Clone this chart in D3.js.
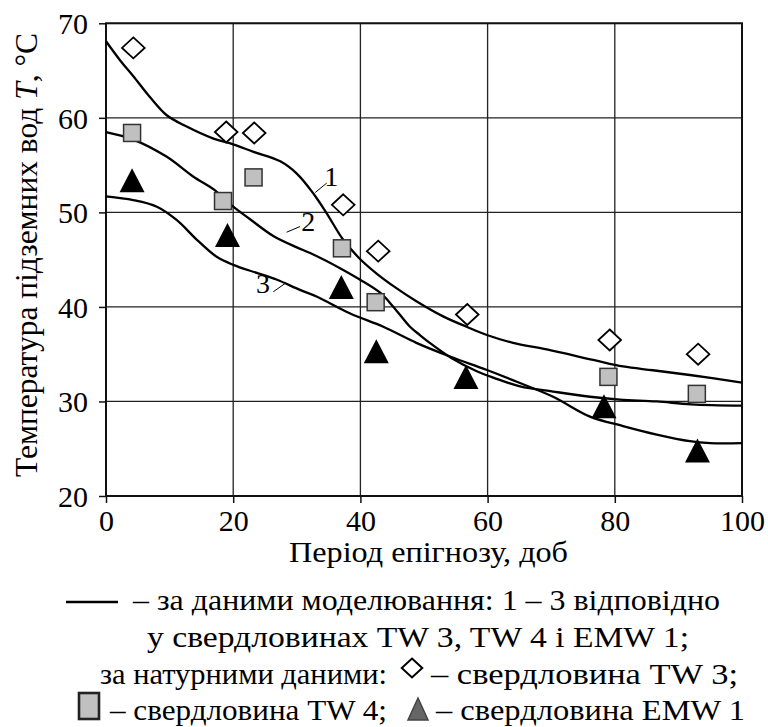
<!DOCTYPE html>
<html><head><meta charset="utf-8">
<script src="https://cdn.jsdelivr.net/npm/d3@7"></script>
</head>
<body style="margin:0">
<script>
// ---- data ----
const xTicks = [0, 20, 40, 60, 80, 100];
const yTicks = [20, 30, 40, 50, 60, 70];

// model curves (1 – TW 3, 2 – TW 4, 3 – EMW 1)
const curve1X = [0, 2.2, 4.3, 6.9, 9.5, 12.6, 16.9, 20, 23.2, 27.4, 30, 32.6, 34.7, 37.3, 39.9, 42.6, 45.2, 48.8, 53, 56.7, 60, 64, 69.3, 76.6, 81.3, 86, 91.8, 100];
const curve1Y = [68.1, 66.1, 64.4, 62.2, 60.3, 59.1, 57.8, 57.2, 56.4, 55.4, 54.1, 52.0, 49.9, 47.1, 45.1, 43.5, 42.2, 40.6, 39.0, 37.9, 37.0, 36.2, 35.5, 34.4, 33.7, 33.3, 32.8, 32.0];

const curve2X = [0, 4.3, 9.5, 13.7, 17.0, 20, 22.6, 26.3, 30, 32.1, 36.8, 39.9, 43.1, 45.2, 47.8, 49.4, 50.9, 54.3, 58.3, 61, 65.1, 70.3, 76.1, 80.8, 86.6, 92, 100];
const curve2Y = [58.5, 57.7, 55.9, 53.8, 52.4, 50.6, 49.3, 47.5, 46.3, 45.7, 44.1, 42.9, 41.5, 40.0, 37.9, 37.0, 36.2, 34.6, 33.2, 32.5, 31.6, 31.05, 30.5, 30.2, 30.0, 29.7, 29.55];

const curve3X = [0, 4.3, 8.0, 11.1, 14.3, 17.4, 20, 23.7, 26.8, 30.5, 33.1, 38.4, 43.6, 48.8, 54.3, 59.8, 65.1, 70.3, 76.1, 81.3, 86.6, 91.8, 95, 100];
const curve3Y = [51.7, 51.3, 50.6, 49.2, 47.1, 45.3, 44.45, 43.6, 42.9, 41.8, 41.1, 39.3, 37.9, 36.2, 34.7, 33.35, 31.95, 30.5, 28.4, 27.4, 26.5, 25.8, 25.6, 25.6];

// field data
const tw3X = [4.3, 18.9, 23.3, 37.3, 42.8, 56.8, 79.2, 93.1];
const tw3Y = [67.4, 58.5, 58.4, 50.8, 45.9, 39.2, 36.5, 35.0];
const tw4X = [4.1, 18.4, 23.2, 37.1, 42.4, 79.0, 92.9];
const tw4Y = [58.4, 51.2, 53.7, 46.2, 40.5, 32.6, 30.8];
const emwX = [4.1, 19.1, 37.0, 42.5, 56.6, 78.3, 93.0];
const emwY = [53.4, 47.6, 42.1, 35.3, 32.6, 29.5, 24.8];

// curve labels: text position and leader line (data coords)
const curveLabels = ["1", "2", "3"];
const labelX = [35.4, 31.8, 24.7];
const labelY = [52.8, 48.0, 41.5];
const leadX1 = [32.9, 28.4, 26.3];
const leadY1 = [52.1, 47.9, 41.6];
const leadX2 = [34.7, 30.5, 28.2];
const leadY2 = [53.1, 48.5, 42.5];

const xTitle = "Період епігнозу, доб";
const yTitle = "Температура підземних вод ";
const legend1 = "– за даними моделювання: 1 – 3 відповідно";
const legend2 = "у свердловинах TW 3, TW 4 і EMW 1;";
const legend3a = "за натурними даними:";
const legend3b = "– свердловина TW 3;";
const legend4a = "– свердловина TW 4;";
const legend4b = "– свердловина EMW 1";

// ---- drawing ----
const W = 768, H = 727;
const FAM = `"Liberation Serif", "Times New Roman", serif`;
const svg = d3.select("body").append("svg").attr("width", W).attr("height", H)
  .style("display", "block").style("font-family", FAM, "important");

const x = d3.scaleLinear().domain([0, 100]).range([106, 742]);
const y = d3.scaleLinear().domain([20, 70]).range([496, 23.3]);

function serif(sel) {
  return sel.style("font-family", FAM, "important");
}
function txt(parent, s, size) {
  const t = serif(parent.append("text")).attr("font-size", size).attr("fill", "#000");
  if (s !== null) t.text(s);
  return t;
}
// fit a text to a width measured on the reference
function fit(t, w) {
  t.attr("textLength", w).attr("lengthAdjust", "spacingAndGlyphs");
  return t;
}

// grid
const grid = svg.append("g");
grid.selectAll("line.v").data(xTicks).join("line")
  .attr("x1", d => x(d)).attr("x2", d => x(d))
  .attr("y1", y(20)).attr("y2", y(70))
  .attr("stroke", "#222").attr("stroke-width", 1.3);
grid.selectAll("line.h").data(yTicks).join("line")
  .attr("y1", d => y(d)).attr("y2", d => y(d))
  .attr("x1", x(0)).attr("x2", x(100))
  .attr("stroke", "#222").attr("stroke-width", 1.3);

// frame
svg.append("rect").attr("x", x(0)).attr("y", y(70))
  .attr("width", x(100) - x(0)).attr("height", y(20) - y(70))
  .attr("fill", "none").attr("stroke", "#111").attr("stroke-width", 2);

// axes
const xAxis = d3.axisBottom(x).tickValues(xTicks).tickSize(7).tickPadding(8).tickFormat(d3.format("d"));
const yAxis = d3.axisLeft(y).tickValues(yTicks).tickSize(7).tickPadding(11).tickFormat(d3.format("d"));
const gx = svg.append("g").attr("transform", `translate(0,${y(20)})`).call(xAxis);
const gy = svg.append("g").attr("transform", `translate(${x(0)},0)`).call(yAxis);
[gx, gy].forEach(g => {
  serif(g).attr("font-size", 30);
  g.select(".domain").remove();
  g.selectAll(".tick line").attr("stroke", "#111").attr("stroke-width", 1.5);
  serif(g.selectAll(".tick text")).attr("font-size", 30).attr("fill", "#000");
});
gy.selectAll(".tick text").attr("dy", "0.34em");
gx.selectAll(".tick text").attr("dy", "0.68em");

// curves
const line = d3.line().x(d => x(d[0])).y(d => y(d[1])).curve(d3.curveCatmullRom.alpha(0.5));
[[curve1X, curve1Y], [curve2X, curve2Y], [curve3X, curve3Y]].forEach(([cx, cy]) => {
  svg.append("path").datum(cx.map((v, i) => [v, cy[i]]))
    .attr("d", line).attr("fill", "none").attr("stroke", "#000").attr("stroke-width", 2.3);
});

// curve labels
curveLabels.forEach((t, i) => {
  svg.append("line").attr("x1", x(leadX1[i])).attr("y1", y(leadY1[i]))
    .attr("x2", x(leadX2[i])).attr("y2", y(leadY2[i]))
    .attr("stroke", "#000").attr("stroke-width", 1);
  txt(svg, t, 28).attr("x", x(labelX[i])).attr("y", y(labelY[i])).attr("text-anchor", "middle");
});

// markers
const diamond = (s) => `M0,${-s}L${s*1.08},0L0,${s}L${-s*1.08},0Z`;
const triangle = (w, h) => `M0,${-h/2}L${w/2},${h/2}L${-w/2},${h/2}Z`;

svg.append("g").selectAll("path").data(tw3X.map((v, i) => [v, tw3Y[i]])).join("path")
  .attr("transform", d => `translate(${x(d[0])},${y(d[1])})`)
  .attr("d", diamond(10.5)).attr("fill", "#fff").attr("stroke", "#000").attr("stroke-width", 1.8);

svg.append("g").selectAll("rect").data(tw4X.map((v, i) => [v, tw4Y[i]])).join("rect")
  .attr("x", d => x(d[0]) - 8.5).attr("y", d => y(d[1]) - 8.5)
  .attr("width", 17).attr("height", 17)
  .attr("fill", "#c0c0c0").attr("stroke", "#333").attr("stroke-width", 1.5);

svg.append("g").selectAll("path").data(emwX.map((v, i) => [v, emwY[i]])).join("path")
  .attr("transform", d => `translate(${x(d[0])},${y(d[1])})`)
  .attr("d", triangle(25, 24)).attr("fill", "#000");

// axis titles
fit(txt(svg, xTitle, 30).attr("x", 289).attr("y", 562), 279);

const yt = txt(svg, null, 31).attr("transform", "translate(37,477) rotate(-90)");
yt.append("tspan").text(yTitle);
yt.append("tspan").attr("font-style", "italic").text("T");
yt.append("tspan").text(", °C");
fit(yt, 444);

// legend
const lg = svg.append("g");
lg.append("line").attr("x1", 66).attr("x2", 118).attr("y1", 602).attr("y2", 602)
  .attr("stroke", "#000").attr("stroke-width", 2.5);
fit(txt(lg, legend1, 30).attr("x", 133).attr("y", 610), 587);
fit(txt(lg, legend2, 30).attr("x", 147).attr("y", 647), 542);
fit(txt(lg, legend3a, 30).attr("x", 100).attr("y", 684), 287);
lg.append("path").attr("transform", "translate(412,668)").attr("d", diamond(9.5))
  .attr("fill", "#fff").attr("stroke", "#000").attr("stroke-width", 2);
fit(txt(lg, legend3b, 30).attr("x", 431).attr("y", 684), 307);
lg.append("rect").attr("x", 79).attr("y", 693).attr("width", 20).attr("height", 26)
  .attr("fill", "#c0c0c0").attr("stroke", "#222").attr("stroke-width", 2.6);
fit(txt(lg, legend4a, 30).attr("x", 110).attr("y", 720), 277);
lg.append("path").attr("transform", "translate(418,709)").attr("d", triangle(20, 22))
  .attr("fill", "#666").attr("stroke", "#444").attr("stroke-width", 1.5);
fit(txt(lg, legend4b, 30).attr("x", 436).attr("y", 720), 309);
</script>
</body></html>
